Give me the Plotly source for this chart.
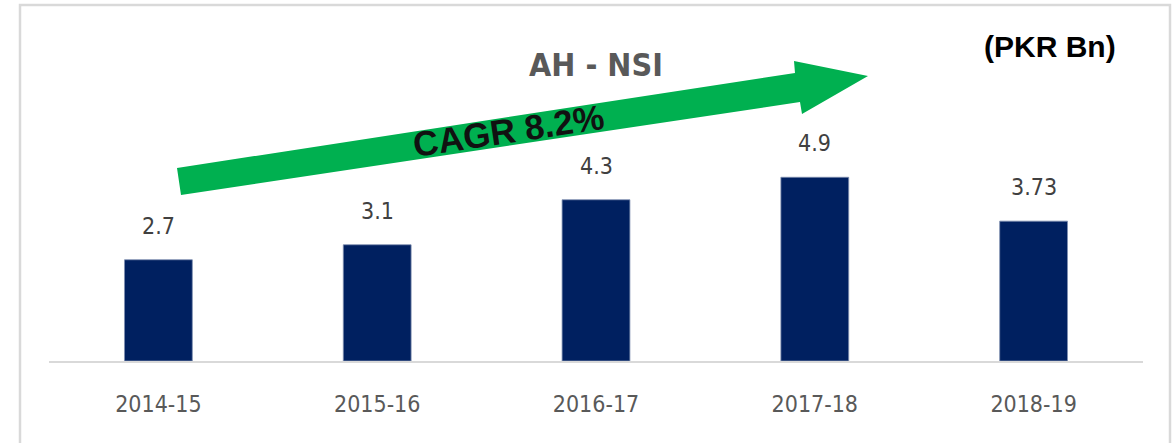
import plotly.graph_objects as go

categories = ["2014-15", "2015-16", "2016-17", "2017-18", "2018-19"]
values = [2.7, 3.1, 4.3, 4.9, 3.73]
value_labels = ["2.7", "3.1", "4.3", "4.9", "3.73"]
title_text = "AH - NSI"
unit_text = "(PKR Bn)"
cagr_text = "CAGR 8.2%"

W, H = 1173, 443
ML, MR, MT, MB = 49, 30, 5, 82
PW = W - ML - MR
PH = H - MT - MB

def px(x):
    return (x - ML) / PW

def py(y):
    return (H - MB - y) / PH

NARROW = "Liberation Sans Narrow, DejaVu Sans Condensed, Arial Narrow, sans-serif"

fig = go.Figure()
fig.add_trace(go.Bar(
    x=categories, y=values,
    marker=dict(color="#002060", line=dict(color="#7f8fb0", width=0.8)),
    width=0.31,
    hoverinfo="skip",
))

# value labels above bars
for c, v, t in zip(categories, values, value_labels):
    fig.add_annotation(x=c, y=v, text=t, showarrow=False, xref="x", yref="y",
                       yanchor="middle", yshift=34,
                       font=dict(family=NARROW, size=23, color="#404040"))

# frame
fig.add_shape(type="rect", xref="paper", yref="paper",
              x0=px(20), x1=px(1170), y0=py(460), y1=py(5),
              line=dict(color="#d9d9d9", width=2.5), fillcolor="rgba(0,0,0,0)",
              layer="below")

# green arrow
pts = [(177, 168), (795, 73), (794, 61), (868, 76), (802, 114), (800, 102), (181, 195)]
path = "M " + " L ".join(f"{px(a):.5f},{py(b):.5f}" for a, b in pts) + " Z"
fig.add_shape(type="path", xref="paper", yref="paper", path=path,
              fillcolor="#00b050", line=dict(width=0), layer="above")

fig.add_annotation(x=px(508), y=py(130), xref="paper", yref="paper",
                   text="<b>" + cagr_text + "</b>", showarrow=False, textangle=-8.5,
                   font=dict(family="Liberation Sans, Arial, sans-serif", size=35, color="#111111"),
                   xanchor="center", yanchor="middle")

fig.add_annotation(x=px(596), y=py(65), xref="paper", yref="paper",
                   text="<b>" + title_text + "</b>", showarrow=False,
                   font=dict(family=NARROW, size=32, color="#595959"),
                   xanchor="center", yanchor="middle")

fig.add_annotation(x=px(1050), y=py(47), xref="paper", yref="paper",
                   text="<b>" + unit_text + "</b>", showarrow=False,
                   font=dict(family="Liberation Sans, Arial, sans-serif", size=30, color="#000000"),
                   xanchor="center", yanchor="middle")

fig.update_layout(
    width=W, height=H,
    margin=dict(l=ML, r=MR, t=MT, b=MB, pad=0),
    plot_bgcolor="white", paper_bgcolor="white",
    showlegend=False,
    bargap=0.69,
    xaxis=dict(showline=True, linecolor="#d9d9d9", linewidth=2, showgrid=False,
               ticks="", ticklabelstandoff=21,
               tickfont=dict(family=NARROW, size=23, color="#595959"),
               range=[-0.5, 4.5], fixedrange=True),
    yaxis=dict(visible=False, range=[0, PH / 37.5], showgrid=False, zeroline=False,
               fixedrange=True),
)

fig.write_html("out.html", config={"displayModeBar": False, "staticPlot": True},
               post_script="document.body.style.margin='0';document.body.style.overflow='hidden';")
